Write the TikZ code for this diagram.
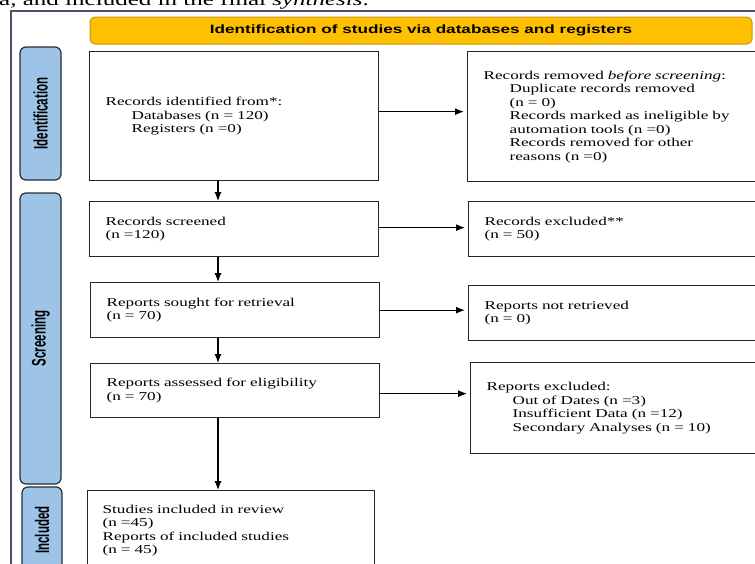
\documentclass[tikz,border=0pt]{standalone}
\usepackage{fontspec}
\setmainfont{Liberation Serif}[FakeStretch=1.43]
\newfontfamily\hdfont{Liberation Sans}[FakeStretch=1.43]
\newfontfamily\sidefont{Liberation Sans}[FakeStretch=0.82]
\usepackage{xcolor}
\usetikzlibrary{arrows.meta}
\definecolor{hdyellow}{RGB}{255,192,0}
\definecolor{hdedge}{RGB}{205,150,10}
\definecolor{sideblue}{RGB}{157,195,230}
\definecolor{sideedge}{RGB}{38,44,56}
\definecolor{framecol}{RGB}{68,84,106}
\newcommand\subind{\hspace*{26pt}}
\newcommand\sidetext[1]{\scalebox{1}[1.4]{\sidefont\bfseries\fontsize{14}{14}\selectfont #1}}

\begin{document}
\begin{tikzpicture}[x=1pt, y=-1pt,
    box/.style={draw=black!85, line width=1.3pt, fill=white, anchor=north west, align=left,
        text width=257pt, inner xsep=16pt, minimum height=#1,
        font=\fontsize{12}{13.5}\selectfont},
    side/.style={draw=sideedge, fill=sideblue, line width=1.2pt, rounded corners=6pt, rotate=90},
    arr/.style={-{Latex[length=9pt,width=7pt]}, line width=1.2pt},
    harr/.style={arr, shorten >=3pt}]
            \useasboundingbox (0,0) rectangle (755,563);
            \fill[white] (0,0) rectangle (755,563);
            \clip (0,0) rectangle (755,563);
            \node[anchor=base west, inner sep=0pt, font=\fontsize{17.5}{17.5}\selectfont] (cap) at (-1,5)
                {a, and included in the final \textit{synthesis}.};
            \draw[framecol, line width=1.3pt] (11,11) rectangle (800,600);
            % header bar
            \node[draw=hdedge, fill=hdyellow, line width=1pt, rounded corners=5pt,
                minimum width=662pt, minimum height=27pt,
                font=\hdfont\bfseries\fontsize{12}{12}\selectfont] (head) at (421,30.5)
                {Identification of studies via databases and registers};
            % phase labels
            \node[side, minimum width=133pt, minimum height=41pt] (idlab) at (40.5,113.5) {\sidetext{Identification}};
            \node[side, minimum width=291pt, minimum height=41pt] (scrlab) at (40.5,338.5) {\sidetext{Screening}};
            \node[side, minimum width=86pt, minimum height=40pt] (inclab) at (42,530) {\sidetext{Included}};
            % left column
            \node[box=129pt] (id) at (89,51) {Records identified from*:\\ \subind Databases (n = 120)\\ \subind Registers (n =0)};
            \node[box=55pt] (scr) at (89,201) {Records screened\\(n =120)};
            \node[box=55pt] (rep) at (90,282) {Reports sought for retrieval\\(n = 70)};
            \node[box=54pt] (ass) at (90,363) {Reports assessed for eligibility\\(n = 70)};
            \node[box=80pt, inner xsep=15pt] (inc) at (87,490) {Studies included in review\\(n =45)\\Reports of included studies\\(n = 45)};
            % right column
            \node[box=130pt] (rm) at (467,51) {Records removed \textit{before screening}:\\ \subind Duplicate records removed\\ \subind (n = 0)\\ \subind Records marked as ineligible by\\ \subind automation tools (n =0)\\ \subind Records removed for other\\ \subind reasons (n =0)};
            \node[box=55pt] (exc) at (468,201) {Records excluded**\\(n = 50)};
            \node[box=55pt] (nr) at (468,285) {Reports not retrieved\\(n = 0)};
            \node[box=91pt] (rex) at (470,362) {Reports excluded:\\ \subind Out of Dates (n =3)\\ \subind Insufficient Data (n =12)\\ \subind Secondary Analyses (n = 10)};
            % arrows
            \coordinate (vx) at (218,0);
            \draw[arr] (id.south -| vx) -- (scr.north -| vx);
            \draw[arr] (scr.south -| vx) -- (rep.north -| vx);
            \draw[arr] (rep.south -| vx) -- (ass.north -| vx);
            \draw[arr] (ass.south -| vx) -- (inc.north -| vx);
            \draw[harr] ([yshift=4.5pt]id.east) -- ([yshift=4.5pt]id.east -| rm.west);
            \draw[harr] ([yshift=1.5pt]scr.east) -- ([yshift=1.5pt]scr.east -| exc.west);
            \draw[harr] (rep.east) -- (rep.east -| nr.west);
            \draw[harr] ([yshift=-3pt]ass.east) -- ([yshift=-3pt]ass.east -| rex.west);
\end{tikzpicture}
\end{document}
